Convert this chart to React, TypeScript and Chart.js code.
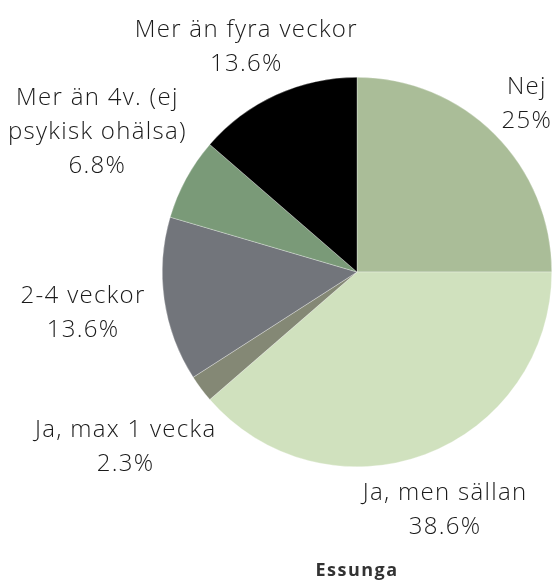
import React, { useEffect, useRef } from "react";
import { Chart, registerables } from "chart.js";

Chart.register(...registerables);

// ---- data ----
const categories: string[][] = [
  ["Nej"],
  ["Ja, men sällan"],
  ["Ja, max 1 vecka"],
  ["2-4 veckor"],
  ["Mer än 4v. (ej", "psykisk ohälsa)"],
  ["Mer än fyra veckor"],
];
const counts: number[] = [11, 17, 1, 6, 3, 6];
const sliceColors: string[] = ["#aabd98", "#d0e1be", "#848875", "#72757b", "#7a9a78", "#000000"];
const titleText = "Essunga";

// ---- label styling ----
const LABEL_FONT_SIZE = 24;
const LABEL_FONT = `300 ${LABEL_FONT_SIZE}px "Open Sans"`;
const LABEL_SPACING = "1.3px";
const LINE_HEIGHT = 34;
const CAP = 17;
const OFFSET = 20;
const MIN_TOP = 20;

const spacingPlugin = {
  id: "spacing",
  beforeDraw(chart: any) {
    (chart.ctx as any).letterSpacing = "1.5px";
  },
  beforeDatasetsDraw(chart: any) {
    (chart.ctx as any).letterSpacing = "0px";
  },
};

const outsideLabels = {
  id: "outsideLabels",
  afterDatasetsDraw(chart: any) {
    const ctx = chart.ctx as CanvasRenderingContext2D;
    const meta = chart.getDatasetMeta(0);
    const data = chart.data.datasets[0].data as number[];
    const total = data.reduce((a, b) => a + b, 0);
    ctx.save();
    ctx.font = LABEL_FONT;
    (ctx as any).letterSpacing = LABEL_SPACING;
    ctx.fillStyle = "#1a1a1a";
    ctx.textAlign = "center";
    ctx.textBaseline = "alphabetic";
    meta.data.forEach((arc: any, i: number) => {
      const { x, y, startAngle, endAngle, outerRadius } = arc.getProps(
        ["x", "y", "startAngle", "endAngle", "outerRadius"],
        true
      );
      const a = (startAngle + endAngle) / 2;
      const vx = Math.cos(a);
      const vy = Math.sin(a);
      const ex = x + vx * outerRadius;
      const ey = y + vy * outerRadius;
      const pct = Math.round((data[i] / total) * 1000) / 10;
      const lines = [...categories[i], `${pct}%`];
      const w = Math.max(...lines.map((l) => ctx.measureText(l).width));
      const h = (lines.length - 1) * LINE_HEIGHT + CAP;
      const d = OFFSET + Math.hypot((vx * w) / 2, (vy * h) / 2);
      const cx = ex + vx * d;
      let top = ey + vy * d - h / 2;
      if (top < MIN_TOP) top = MIN_TOP;
      lines.forEach((l, j) => ctx.fillText(l, cx, top + CAP + j * LINE_HEIGHT));
    });
    ctx.restore();
  },
};

export default function App() {
  const canvasRef = useRef<HTMLCanvasElement | null>(null);

  useEffect(() => {
    if (!canvasRef.current) return;
    const chart = new Chart(canvasRef.current, {
      type: "pie",
      data: {
        labels: categories.map((c) => c.join(" ")),
        datasets: [
          {
            data: counts,
            backgroundColor: sliceColors,
            borderColor: "rgba(255,255,255,0.6)",
            borderWidth: 0.5,
          },
        ],
      },
      options: {
        responsive: false,
        animation: false,
        devicePixelRatio: 1,
        layout: { padding: { top: 77, bottom: 0, left: 0, right: 0 } },
        plugins: {
          legend: { display: false },
          tooltip: { enabled: false },
          title: {
            display: true,
            text: titleText,
            position: "bottom",
            color: "#333333",
            font: { family: "'Open Sans'", size: 18, weight: "bold", lineHeight: 1.2 },
            padding: { top: 93.4, bottom: 0 },
          },
        },
      },
      plugins: [spacingPlugin, outsideLabels],
    });
    return () => chart.destroy();
  }, []);

  return (
    <div
      style={{
        position: "absolute",
        left: 0,
        top: 0,
        width: 552,
        height: 582,
        overflow: "hidden",
        background: "#ffffff",
      }}
    >
      <canvas ref={canvasRef} width={714} height={582} style={{ width: 714, height: 582, display: "block" }} />
    </div>
  );
}
